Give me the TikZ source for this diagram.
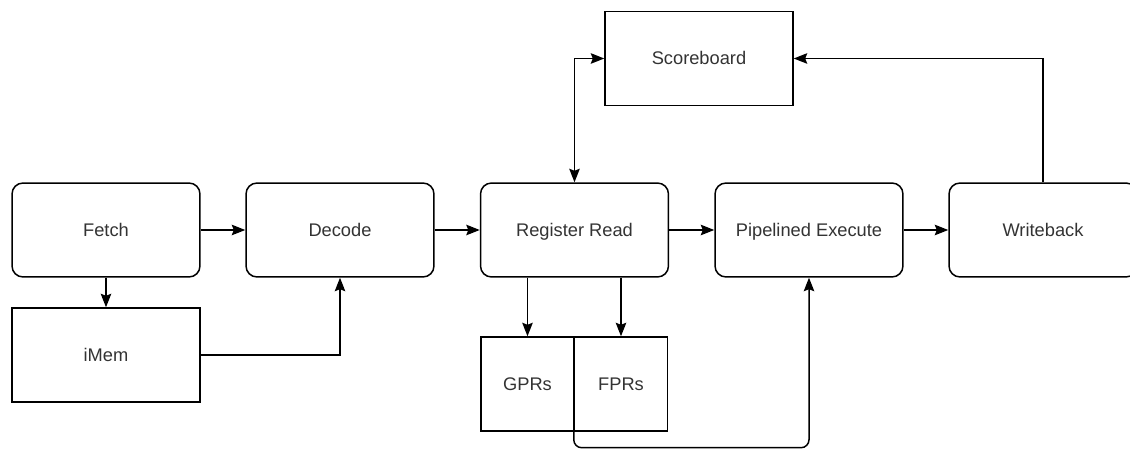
\documentclass[tikz,border=0pt]{standalone}
\usepackage{fontspec}
\setmainfont{Liberation Sans}
\usetikzlibrary{arrows.meta,positioning}
\begin{document}
\begin{tikzpicture}[x=0.02cm, y=-0.02cm, line width=0.85pt,
  stage/.style={draw, rounded corners=0.22cm, minimum width=3.76cm, minimum height=1.88cm, text=black!80, text height=1.6ex, text depth=0.3ex, font=\fontsize{10.4}{12}\selectfont},
  unit/.style={draw, minimum width=3.76cm, minimum height=1.88cm, text=black!80, text height=1.6ex, text depth=0.3ex, font=\fontsize{10.4}{12}\selectfont},
  reg/.style={unit, minimum width=1.86cm},
  tip/.tip={Stealth[length=0.27cm, width=0.21cm, inset=0.04cm]},
  arr/.style={-tip},
  dblarr/.style={tip-tip}]
\useasboundingbox (0,0) rectangle (1130,449);
\node[stage] (fetch) at (106,230) {Fetch};
\node[stage] (decode) at (340,230) {Decode};
\node[stage] (regread) at (574.5,230) {Register Read};
\node[stage] (exec) at (809,230) {Pipelined Execute};
\node[stage] (wb) at (1043,230) {Writeback};
\node[unit] (score) at (699,58.5) {Scoreboard};
\node[unit] (imem) at (106,355) {iMem};
\node[reg] (gpr) at (527.5,384) {GPRs};
\node[reg] (fpr) at (621,384) {FPRs};
\draw[arr] (fetch) -- (decode);
\draw[arr] (decode) -- (regread);
\draw[arr] (regread) -- (exec);
\draw[arr] (exec) -- (wb);
\draw[arr] (fetch) -- (imem);
\draw[arr] (imem.east) -| (decode.south);
\draw[arr] (regread.south -| gpr) -- (gpr);
\draw[arr] (regread.south -| fpr) -- (fpr);
\draw[arr, rounded corners=0.16cm] (fpr.south west) -- ++(0,16) -| (exec.south);
\draw[dblarr] (regread.north) |- (score.west);
\draw[arr] (wb.north) |- (score.east);
\end{tikzpicture}
\end{document}
